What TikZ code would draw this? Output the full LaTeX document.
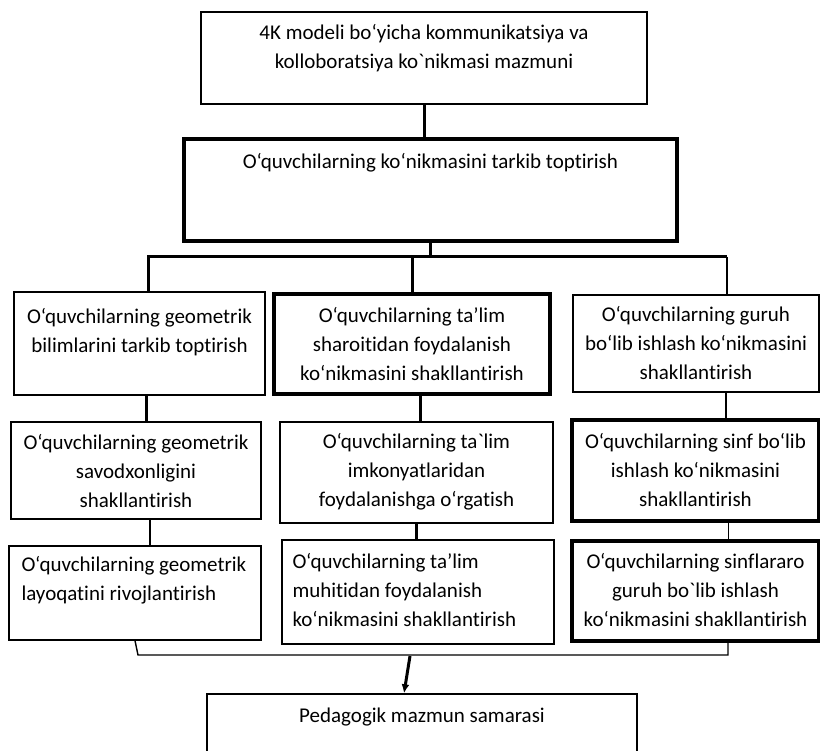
\documentclass[tikz,border=0pt]{standalone}
\usepackage{fontspec}
\usepackage{tikz}
\usetikzlibrary{positioning,arrows.meta}
\newfontfamily\carl{Carlito}[Ligatures=NoCommon]
\tikzset{box/.style={rectangle,draw=black,line width=1.4pt,inner sep=0pt},
         heavybox/.style={box,line width=3.5pt},
         txt/.style={align=center,inner sep=0pt,
                     font=\carl\fontsize{21}{29}\selectfont},
         ltxt/.style={txt,align=left},
         conn/.style={draw=black,line width=3pt},
         thinconn/.style={draw=black,line width=1.4pt}}

\begin{document}
\begin{tikzpicture}[x=1pt,y=-1pt]
    \useasboundingbox (0,0) rectangle (820,751);
    \clip (0,0) rectangle (820,751);
    % top of the scheme
    \node (top) at (424,58) [box,minimum width=446pt,minimum height=92pt]{};
    \node (toptxt) [txt,below=13pt of top.north]
          {4K modeli bo‘yicha kommunikatsiya va\\kolloboratsiya ko`nikmasi mazmuni};
    \node (main) at (430.5,190) [heavybox,minimum width=493pt,minimum height=102pt]{};
    \node (maintxt) [txt,below=16pt of main.north]
          {O‘quvchilarning ko‘nikmasini tarkib toptirish};
    % first row
    \node (r1a) at (139.5,343.5) [box,minimum width=251pt,minimum height=103pt]{};
    \node (r1atxt) [txt,below=17pt of r1a.north]
          {O‘quvchilarning geometrik\\bilimlarini tarkib toptirish};
    \node (r1b) at (412,344) [heavybox,minimum width=276pt,minimum height=100pt]{};
    \node (r1btxt) [txt,below=15pt of r1b.north]
          {O‘quvchilarning ta’lim\\sharoitidan foydalanish\\ko‘nikmasini shakllantirish};
    \node (r1c) at (696,343.5) [box,minimum width=246pt,minimum height=97pt]{};
    \node (r1ctxt) [txt,below=12pt of r1c.north]
          {O‘quvchilarning guruh\\bo‘lib ishlash ko‘nikmasini\\shakllantirish};
    % second row
    \node (r2a) at (136,470.5) [box,minimum width=250pt,minimum height=97pt]{};
    \node (r2atxt) [txt,below=13pt of r2a.north]
          {O‘quvchilarning geometrik\\savodxonligini\\shakllantirish};
    \node (r2b) at (416.5,472.5) [box,minimum width=273pt,minimum height=101pt]{};
    \node (r2btxt) [txt,below=12pt of r2b.north]
          {O‘quvchilarning ta`lim\\imkonyatlaridan\\foydalanishga o‘rgatish};
    \node (r2c) at (695.5,470.5) [heavybox,minimum width=247pt,minimum height=101pt]{};
    \node (r2ctxt) [txt,below=15pt of r2c.north]
          {O‘quvchilarning sinf bo‘lib\\ishlash ko‘nikmasini\\shakllantirish};
    % third row
    \node (r3a) at (135,593) [box,minimum width=252pt,minimum height=94pt]{};
    \node (r3atxt) [ltxt,anchor=north west,below right=11pt and 13pt of r3a.north west]
          {O‘quvchilarning geometrik\\layoqatini rivojlantirish};
    \node (r3b) at (418,592) [box,minimum width=272pt,minimum height=104pt]{};
    \node (r3btxt) [ltxt,anchor=north west,below right=14pt and 11pt of r3b.north west]
          {O‘quvchilarning ta’lim\\muhitidan foydalanish\\ko‘nikmasini shakllantirish};
    \node (r3c) at (695.5,591) [heavybox,minimum width=247pt,minimum height=100pt]{};
    \node (r3ctxt) [txt,below=14pt of r3c.north]
          {O‘quvchilarning sinflararo\\guruh bo`lib ishlash\\ko‘nikmasini shakllantirish};
    % result
    \node (res) at (422,740) [box,minimum width=430pt,minimum height=92pt]{};
    \node (restxt) [txt,below=14pt of res.north] {Pedagogik mazmun samarasi};

    \coordinate (busL) at (148,257);
    \coordinate (busR) at (727,257);
    \coordinate (lowL) at (138,655);
    \coordinate (lowR) at (728,655);
    \coordinate (lowM) at (410,656);

    \draw[conn] (top.south) -- (top.south |- main.north);
    \draw[conn] (main.south) -- (main.south |- busL);
    \draw[conn] (busL |- r1a.north) -- (busL) -- (busR);
    \draw[thinconn] (busR) -- (busR |- r1c.north);
    \draw[conn] (r1b.north) -- (r1b.north |- busL);
    \draw[conn] ([xshift=7pt]r1a.south) -- ([xshift=7pt]r1a.south |- r2a.north);
    \draw[conn] ([xshift=8pt]r1b.south) -- ([xshift=8pt]r1b.south |- r2b.north);
    \draw[thinconn] ([xshift=30pt]r1c.south) -- ([xshift=30pt]r1c.south |- r2c.north);
    \draw[thinconn] ([xshift=14pt]r2a.south) -- ([xshift=14pt]r2a.south |- r3a.north);
    \draw[conn] (r2b.south) -- (r2b.south |- r3b.north);
    \draw[thinconn] ([xshift=33pt]r2c.south) -- ([xshift=33pt]r2c.south |- r3c.north);
    \draw[thinconn] (r3a.south) -- (lowL) -- (lowR) -- (lowR |- r3c.south);
    \draw[conn,-{Latex[length=9pt,width=8pt]}] (lowM) -- ([xshift=-18pt]res.north);
\end{tikzpicture}
\end{document}
